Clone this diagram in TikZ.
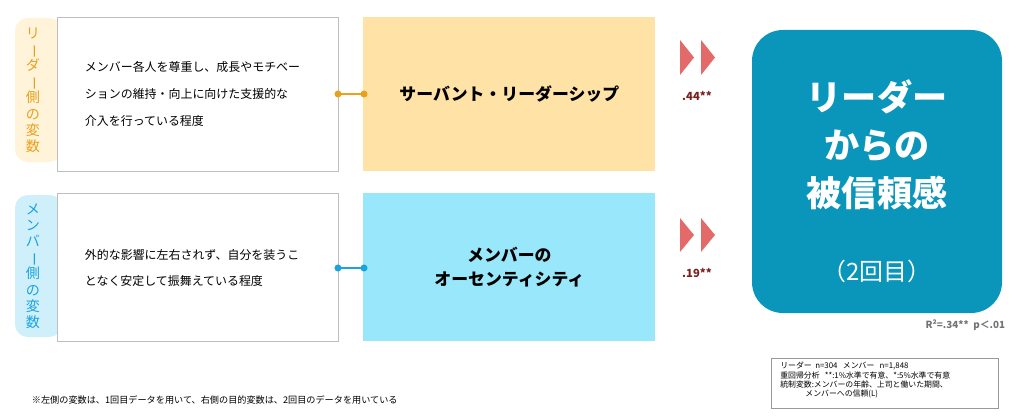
\documentclass[tikz,border=0pt]{standalone}
\usepackage{fontspec}
\setmainfont{Noto Sans CJK JP}
\usetikzlibrary{positioning}
\definecolor{ldrtab}{HTML}{FFF3D9}
\definecolor{ldrtext}{HTML}{E8A11A}
\definecolor{ldrfill}{HTML}{FFE2A6}
\definecolor{memtab}{HTML}{CFF0FB}
\definecolor{memtext}{HTML}{1AA3DD}
\definecolor{memfill}{HTML}{99E7FB}
\definecolor{outfill}{HTML}{0A95BA}
\definecolor{chev}{HTML}{E46A6A}
\definecolor{coef}{HTML}{7A1F1F}
\newcommand{\vbar}{\rotatebox[origin=c]{-90}{ー}}
\tikzset{
    tabbox/.style = {rounded corners=9pt, inner sep=0pt},
    descbox/.style = {draw=black!25, fill=white, minimum width=7.025cm,
        minimum height=3.85cm, inner sep=0pt},
    varbox/.style = {minimum width=7.3cm, minimum height=3.85cm, inner sep=0pt,
        font=\bfseries\fontsize{12}{17}\selectfont, align=center},
    dot/.style = {circle, inner sep=0pt, minimum size=5pt},
    chevtip/.style = {fill=chev},
}
\begin{document}
\begin{tikzpicture}[x=0.025cm, y=-0.025cm]
    \useasboundingbox (0, 0) rectangle (1020, 420);

    % left tabs
    \fill[ldrtab, rounded corners=9pt] (15, 18) rectangle (62, 162);
    \fill[memtab, rounded corners=9pt] (15, 195) rectangle (62, 337);
    \node[text=ldrtext, font=\fontsize{10}{11.5}\selectfont, align=center] (ldrtab) at (33, 90)
        {リ\\\vbar\\ダ\\\vbar\\側\\の\\変\\数};
    \node[text=memtext, font=\fontsize{10}{11.5}\selectfont, align=center] (memtab) at (33, 266)
        {メ\\ン\\バ\\\vbar\\側\\の\\変\\数};

    % descriptions
    \node[descbox, anchor=north west] (ldrdesc) at (57, 17) {};
    \node[descbox, anchor=north west, minimum height=3.7cm] (memdesc) at (57, 193) {};
    \node[anchor=west, align=left, font=\fontsize{8.5}{19}\selectfont] at (80, 94)
        {メンバー各人を尊重し、成長やモチベー\\ションの維持・向上に向けた支援的な\\介入を行っている程度};
    \node[anchor=west, align=left, font=\fontsize{8.5}{19}\selectfont] at (80, 268)
        {外的な影響に左右されず、自分を装うこ\\となく安定して振舞えている程度};

    % variables
    \node[varbox, fill=ldrfill, anchor=north west] (ldrvar) at (363, 17)
        {サーバント・リーダーシップ};
    \node[varbox, fill=memfill, anchor=north west, minimum height=3.7cm] (memvar) at (363, 193)
        {メンバーの\\オーセンティシティ};

    % connectors
    \coordinate (ldra) at (338, 94);
    \coordinate (ldrb) at (364, 94);
    \coordinate (mema) at (338, 268);
    \coordinate (memb) at (364, 268);
    \draw[ldrtext, line width=0.3mm] (ldra) -- (ldrb);
    \node[dot, fill=ldrtext] at (ldra) {};
    \node[dot, fill=ldrtext] at (ldrb) {};
    \draw[memtext, line width=0.3mm] (mema) -- (memb);
    \node[dot, fill=memtext] at (mema) {};
    \node[dot, fill=memtext] at (memb) {};

    % chevrons
    \foreach \x in {680, 701}
    {
        \fill[chevtip] (\x, 40) -- (\x+14, 57.5) -- (\x, 75) -- cycle;
        \fill[chevtip] (\x, 218) -- (\x+14, 235) -- (\x, 252) -- cycle;
    }
    \node[text=coef, font=\bfseries\fontsize{8}{9}\selectfont] (ldrcoef) at (697, 96) {.44**};
    \node[text=coef, font=\bfseries\fontsize{8}{9}\selectfont] (memcoef) at (697, 273) {.19**};

    % outcome
    \fill[outfill, rounded corners=22pt] (752, 30) rectangle (1002, 313);
    \node[text=white, font=\bfseries\fontsize{25}{34}\selectfont, align=center] (outcome) at (877, 145)
        {リーダー\\からの\\被信頼感};
    \node[text=white, font=\fontsize{17}{20}\selectfont] (round) at (877, 271) {（2回目）};

    \node[text=black!55, font=\bfseries\itshape\fontsize{7}{8}\selectfont, anchor=east] (rsq) at (1010, 325)
        {R²=.34**\ \ p＜.01};

    % notes
    \draw[black!40] (771, 358) rectangle (998, 408);
    \node[anchor=north west, align=left, font=\fontsize{5.6}{6.6}\selectfont, inner sep=0pt] (note) at (780, 362)
        {リーダー\ \ n=304\ \ \ メンバー\ \ \ n=1,848\\
         重回帰分析\ \ \ **:1\%水準で有意、*:5\%水準で有意\\
         統制変数:メンバーの年齢、上司と働いた期間、\\
         \hspace{3.2em}メンバーへの信頼(L)};
    \node[anchor=west, font=\fontsize{6.5}{8}\selectfont] (foot) at (27, 400)
        {※左側の変数は、1回目データを用いて、右側の目的変数は、2回目のデータを用いている};
\end{tikzpicture}
\end{document}
